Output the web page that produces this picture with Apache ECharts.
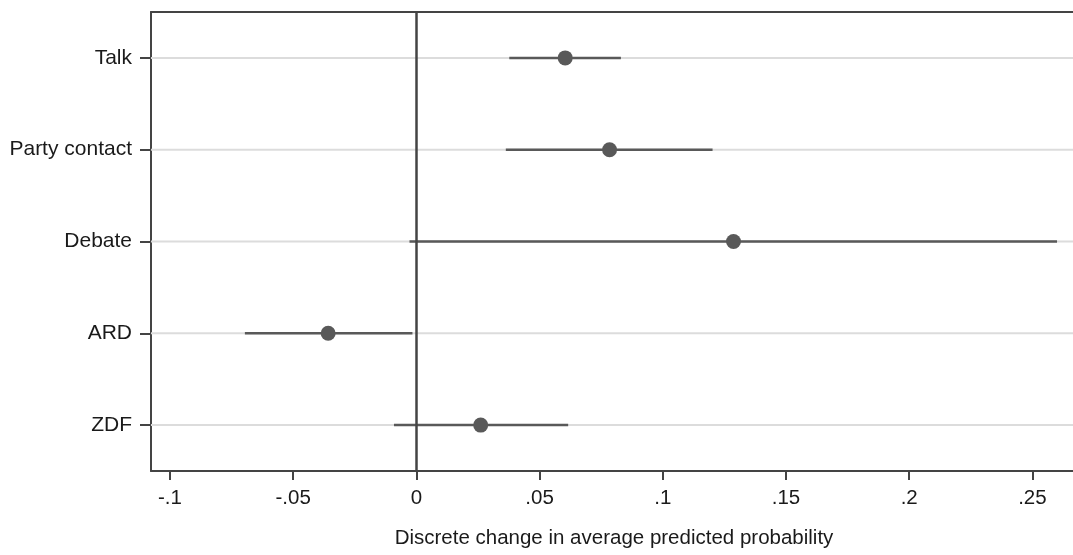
<!DOCTYPE html>
<html>
<head>
<meta charset="utf-8">
<script src="https://cdn.jsdelivr.net/npm/echarts@6/dist/echarts.min.js"></script>
<style>html,body{margin:0;padding:0;background:#fff;overflow:hidden;}#c{width:1077px;height:555px;}</style>
</head>
<body>
<div id="c"></div>
<script>
const categories = ['Talk', 'Party contact', 'Debate', 'ARD', 'ZDF'];
const estimates = [0.0604, 0.0784, 0.1287, -0.0358, 0.0261];
const lowerCI = [0.0377, 0.0363, -0.0028, -0.0696, -0.0091];
const upperCI = [0.0830, 0.1202, 0.2600, -0.0016, 0.0616];
const xTicks = [-0.1, -0.05, 0, 0.05, 0.1, 0.15, 0.2, 0.25];
const xTickLabels = ['-.1', '-.05', '0', '.05', '.1', '.15', '.2', '.25'];
const xMin = -0.1077, xMax = 0.2681;

const FONT = '"Liberation Sans", Arial, sans-serif';
const chart = echarts.init(document.getElementById('c'));

const option = {
  animation: false,
  backgroundColor: '#fff',
  grid: {
    left: 151, right: 0, top: 12, bottom: 84, show: false
  },
  xAxis: [{
    type: 'value', min: xMin, max: xMax,
    splitLine: { show: false },
    axisLine: { show: true, onZero: false, lineStyle: { color: '#444', width: 2 } },
    axisTick: { show: true, length: 9, lineStyle: { color: '#444', width: 2 }, customValues: xTicks },
    axisLabel: {
      show: true, customValues: xTicks, margin: 17,
      fontFamily: FONT, fontSize: 20.5, color: '#1a1a1a',
      formatter: function (v) {
        for (let i = 0; i < xTicks.length; i++) { if (Math.abs(xTicks[i] - v) < 1e-9) return xTickLabels[i]; }
        return '';
      }
    },
    name: 'Discrete change in average predicted probability',
    nameLocation: 'middle', nameGap: 57,
    nameTextStyle: { fontFamily: FONT, fontSize: 20.5, color: '#1a1a1a' }
  }, {
    type: 'value', position: 'top', min: xMin, max: xMax,
    splitLine: { show: false },
    axisLine: { show: true, onZero: false, lineStyle: { color: '#444', width: 2 } },
    axisTick: { show: false }, axisLabel: { show: false }
  }],
  yAxis: {
    type: 'category', data: categories, inverse: true, boundaryGap: true,
    axisLine: { show: true, onZero: false, lineStyle: { color: '#444', width: 2 } },
    axisTick: { show: true, alignWithLabel: true, length: 11, lineStyle: { color: '#444', width: 2 } },
    axisLabel: { margin: 19, fontFamily: FONT, fontSize: 21, color: '#1a1a1a', padding: [3, 0, 0, 0] },
    splitLine: { show: false }
  },
  series: [
    {
      type: 'custom', name: 'gridlines', z: 1, silent: true,
      data: categories.map((c, i) => [i]),
      encode: { y: 0 },
      renderItem: function (params, api) {
        const cs = params.coordSys;
        const p = api.coord([xMin, api.value(0)]);
        return {
          type: 'line',
          shape: { x1: cs.x, y1: p[1], x2: cs.x + cs.width, y2: p[1] },
          style: { stroke: '#dcdcdc', lineWidth: 2 }
        };
      },
      markLine: {
        silent: true, symbol: 'none', label: { show: false }, z: 5,
        lineStyle: { color: '#444', width: 2.5, type: 'solid', opacity: 1 },
        data: [{ xAxis: 0 }]
      }
    },
    {
      type: 'custom', name: 'CI', z: 3, silent: true,
      data: categories.map((c, i) => [lowerCI[i], upperCI[i], i]),
      encode: { x: [0, 1], y: 2 },
      renderItem: function (params, api) {
        const a = api.coord([api.value(0), api.value(2)]);
        const b = api.coord([api.value(1), api.value(2)]);
        return {
          type: 'line',
          shape: { x1: a[0], y1: a[1], x2: b[0], y2: b[1] },
          style: { stroke: '#595959', lineWidth: 2.5 }
        };
      }
    },
    {
      type: 'scatter', name: 'Estimate', z: 6,
      symbol: 'circle', symbolSize: 15,
      itemStyle: { color: '#595959', opacity: 1 },
      data: categories.map((c, i) => [estimates[i], i])
    }
  ]
};
chart.setOption(option);
</script>
</body>
</html>
